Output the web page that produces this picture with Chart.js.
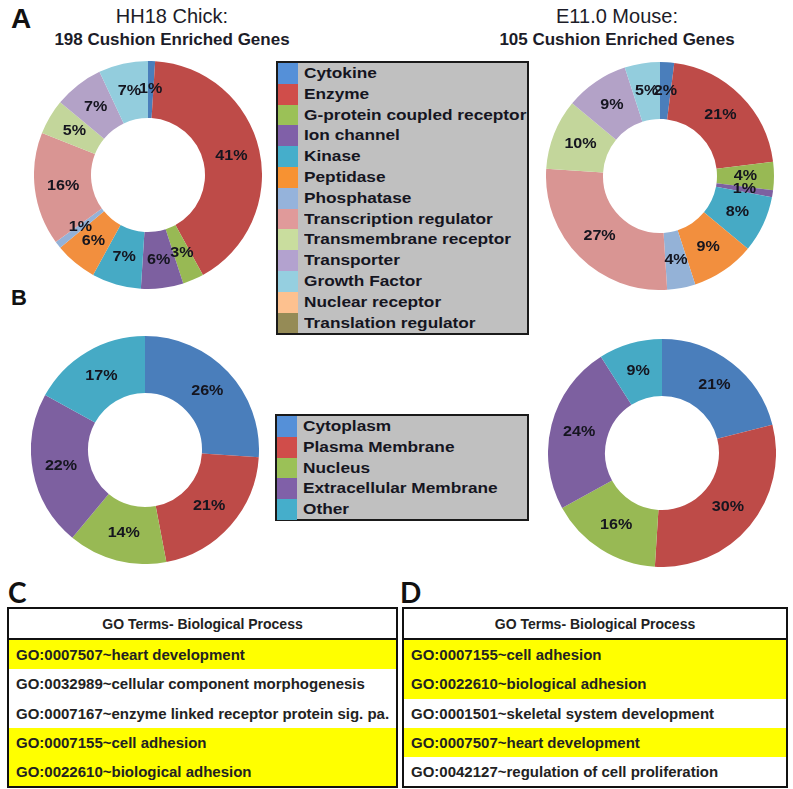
<!DOCTYPE html>
<html>
<head>
<meta charset="utf-8">
<script src="https://cdn.jsdelivr.net/npm/chart.js@4/dist/chart.umd.min.js"></script>
<style>
  body { margin: 0; background: #fff; font-family: "Liberation Sans", Arial, sans-serif; color: #1c1c28; }
  #page { position: relative; width: 793px; height: 789px; overflow: hidden; }
  .abs { position: absolute; }
  .panel { font-family: "Liberation Sans", Arial, sans-serif; font-weight: bold; color: #111; }
  .title1 { font-size: 20px; text-align: center; width: 300px; }
  .title2 { font-size: 17px; font-weight: bold; text-align: center; width: 300px; }
  .legend { background: #c0c0c0; border: 2px solid #1a1a1a; box-sizing: border-box; }
  .legend .row { position: relative; height: 20.8px; }
  .legend .sw { position: absolute; left: 0; top: 0; width: 20px; height: 100%; }
  .legend .lb { position: absolute; left: 26px; top: 1px; font-size: 15px; font-weight: bold; color: #15151f;
                transform: scaleX(1.15); transform-origin: left center; white-space: nowrap; line-height: 18px; }
  table.go { position: absolute; border-collapse: collapse; border: 2px solid #111; }
  table.go th { height: 29px; font-size: 14px; font-weight: bold; color: #222; border-bottom: 2px solid #111; text-align: center; padding: 0; }
  table.go td { height: 29.3px; font-size: 15px; font-weight: bold; color: #222; padding: 0 0 0 7px; white-space: nowrap; }
  table.go td.hl { background: #ffff00; }
  .chartbox { position: absolute; width: 228px; height: 228px; }
</style>
</head>
<body>
<div id="page">
  <div class="abs panel" style="left:11px;top:3px;font-size:28px;">A</div>
  <div class="abs panel" style="left:11px;top:285px;font-size:22px;">B</div>
  <div class="abs panel" style="left:8px;top:575px;font-size:28px;font-family:Lato,'Liberation Sans',sans-serif;">C</div>
  <div class="abs panel" style="left:400px;top:575px;font-size:28px;font-family:Lato,'Liberation Sans',sans-serif;">D</div>

  <div class="abs title1" style="left:22px;top:5px;">HH18 Chick:</div>
  <div class="abs title2" style="left:22px;top:30px;">198 Cushion Enriched Genes</div>
  <div class="abs title1" style="left:467px;top:5px;">E11.0 Mouse:</div>
  <div class="abs title2" style="left:467px;top:30px;">105 Cushion Enriched Genes</div>

  <div class="chartbox" style="left:34px;top:61px;"><canvas id="chickType"></canvas></div>
  <div class="chartbox" style="left:546px;top:62px;"><canvas id="mouseType"></canvas></div>
  <div class="chartbox" style="left:31px;top:336px;"><canvas id="chickLoc"></canvas></div>
  <div class="chartbox" style="left:548px;top:339px;"><canvas id="mouseLoc"></canvas></div>

  <div id="legendType" class="abs legend" style="left:276px;top:61px;width:253px;height:274px;"></div>
  <div id="legendLoc" class="abs legend" style="left:275px;top:414px;width:254px;height:107px;"></div>

  <table class="go" id="tableC" style="left:7px;top:607px;width:391px;"></table>
  <table class="go" id="tableD" style="left:402px;top:607px;width:386px;"></table>
</div>

<script>
// categorias de tipo molecular
const tiposMoleculares = ['Cytokine', 'Enzyme', 'G-protein coupled receptor', 'Ion channel', 'Kinase',
  'Peptidase', 'Phosphatase', 'Transcription regulator', 'Transmembrane receptor', 'Transporter',
  'Growth Factor', 'Nuclear receptor', 'Translation regulator'];
const pollitoTipos = [1, 41, 3, 6, 7, 6, 1, 16, 5, 7, 7, 0, 0];
const ratonTipos = [2, 21, 4, 1, 8, 9, 4, 27, 10, 9, 5, 0, 0];

// localizacion celular
const localizaciones = ['Cytoplasm', 'Plasma Membrane', 'Nucleus', 'Extracellular Membrane', 'Other'];
const pollitoLocalizacion = [26, 21, 14, 22, 17];
const ratonLocalizacion = [21, 30, 16, 24, 9];

// tablas GO
const terminosC = ['GO:0007507~heart development', 'GO:0032989~cellular component morphogenesis',
  'GO:0007167~enzyme linked receptor protein sig. pa.', 'GO:0007155~cell adhesion', 'GO:0022610~biological adhesion'];
const resaltadoC = [true, false, false, true, true];
const terminosD = ['GO:0007155~cell adhesion', 'GO:0022610~biological adhesion',
  'GO:0001501~skeletal system development', 'GO:0007507~heart development', 'GO:0042127~regulation of cell proliferation'];
const resaltadoD = [true, true, false, true, false];
const tituloTabla = 'GO Terms- Biological Process';

// colores
const coloresTipo = ['#4a7ebb', '#be4b48', '#98b954', '#7d60a0', '#46aac5', '#f28f3e', '#94b2d7',
  '#d99593', '#c3d69b', '#b3a2c7', '#93cddd', '#fac090', '#948a54'];
const coloresLeyendaTipo = ['#5590d8', '#d04d4a', '#9bc157', '#8060a8', '#45aecb', '#f79232', '#95b3db',
  '#e09a9a', '#c9dd9e', '#b3a2cf', '#95cfe0', '#fdc18f', '#958b56'];
const coloresLoc = ['#4a7ebb', '#be4b48', '#98b954', '#7d60a0', '#46aac5'];
const coloresLeyendaLoc = ['#5590d8', '#d04d4a', '#9bc157', '#8060a8', '#45aecb'];

// etiquetas de porcentaje dentro de cada porcion
const etiquetasPorcentaje = {
  id: 'etiquetasPorcentaje',
  afterDatasetsDraw(chart) {
    const ctx = chart.ctx;
    const meta = chart.getDatasetMeta(0);
    const valores = chart.data.datasets[0].data;
    ctx.save();
    ctx.font = 'bold 14px "Liberation Sans", Arial, sans-serif';
    ctx.fillStyle = '#15151f';
    ctx.textAlign = 'center';
    ctx.textBaseline = 'middle';
    meta.data.forEach(function (arco, i) {
      if (!valores[i]) return;
      const p = arco.tooltipPosition();
      ctx.save();
      ctx.translate(p.x, p.y);
      ctx.scale(1.15, 1);
      ctx.fillText(valores[i] + '%', 0, 0);
      ctx.restore();
    });
    ctx.restore();
  }
};

function crearDona(id, labels, valores, colores) {
  const ctx = document.getElementById(id).getContext('2d');
  return new Chart(ctx, {
    type: 'doughnut',
    data: {
      labels: labels,
      datasets: [{
        data: valores,
        backgroundColor: colores,
        borderWidth: 0
      }]
    },
    options: {
      responsive: true,
      maintainAspectRatio: false,
      animation: false,
      cutout: '50%',
      layout: { padding: 0 },
      plugins: {
        legend: { display: false },
        tooltip: { enabled: false }
      }
    },
    plugins: [etiquetasPorcentaje]
  });
}

function crearLeyenda(id, labels, colores) {
  const caja = document.getElementById(id);
  labels.forEach(function (texto, i) {
    const fila = document.createElement('div');
    fila.className = 'row';
    fila.innerHTML = '<div class="sw" style="background:' + colores[i] + '"></div><span class="lb">' + texto + '</span>';
    caja.appendChild(fila);
  });
}

function crearTabla(id, terminos, resaltado) {
  const tabla = document.getElementById(id);
  let html = '<tr><th>' + tituloTabla + '</th></tr>';
  terminos.forEach(function (t, i) {
    html += '<tr><td class="' + (resaltado[i] ? 'hl' : '') + '">' + t + '</td></tr>';
  });
  tabla.innerHTML = html;
}

crearDona('chickType', tiposMoleculares, pollitoTipos, coloresTipo);
crearDona('mouseType', tiposMoleculares, ratonTipos, coloresTipo);
crearDona('chickLoc', localizaciones, pollitoLocalizacion, coloresLoc);
crearDona('mouseLoc', localizaciones, ratonLocalizacion, coloresLoc);
crearLeyenda('legendType', tiposMoleculares, coloresLeyendaTipo);
crearLeyenda('legendLoc', localizaciones, coloresLeyendaLoc);
crearTabla('tableC', terminosC, resaltadoC);
crearTabla('tableD', terminosD, resaltadoD);
</script>
</body>
</html>
